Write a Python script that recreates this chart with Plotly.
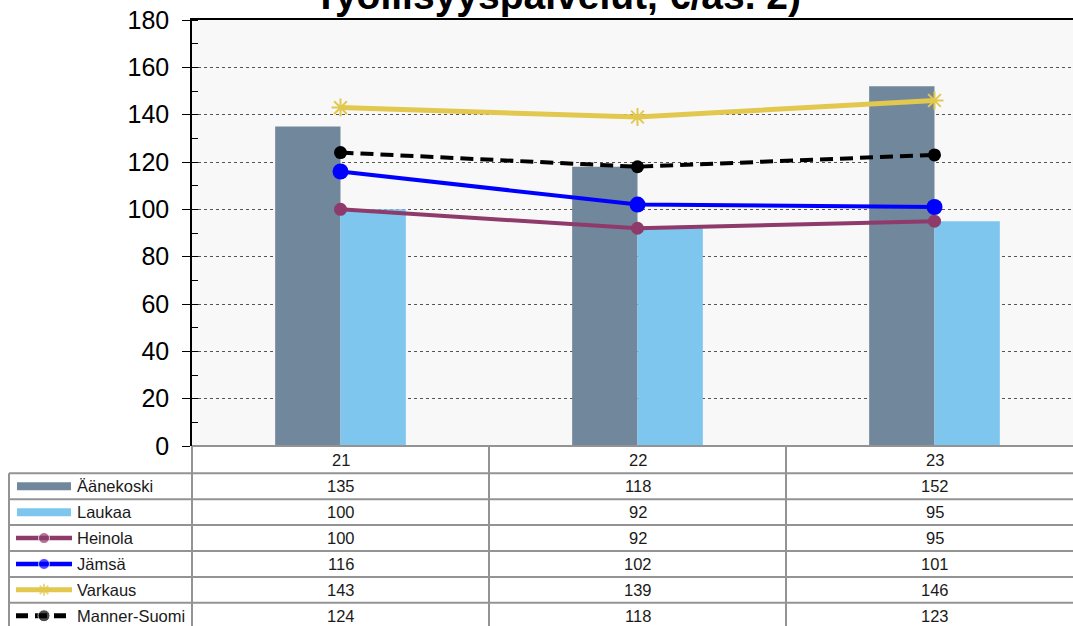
import plotly.graph_objects as go

# Data: cost per inhabitant (€/as.) by year
years = ["21", "22", "23"]
aanekoski = [135, 118, 152]
laukaa = [100, 92, 95]
heinola = [100, 92, 95]
jamsa = [116, 102, 101]
varkaus = [143, 139, 146]
manner_suomi = [124, 118, 123]

title_text = "Työllisyyspalvelut, €/as. 2)"

W, H = 1073, 626


def px(x):
    return x / W


def py(y):
    return 1 - y / H


C_AAN = "#71879c"
C_LAU = "#7fc6ef"
C_HEI = "#8e3a6b"
C_JAM = "#0000ff"
C_VAR = "#e2c84e"
C_MS = "#000000"

fig = go.Figure()

# Bars
fig.add_trace(go.Bar(x=years, y=aanekoski, name="Äänekoski", marker_color=C_AAN,
                     marker_line_width=0))
fig.add_trace(go.Bar(x=years, y=laukaa, name="Laukaa", marker_color=C_LAU,
                     marker_line_width=0))

# Lines
fig.add_trace(go.Scatter(x=years, y=heinola, name="Heinola", mode="lines+markers",
                         line=dict(color=C_HEI, width=4),
                         marker=dict(color=C_HEI, size=13, symbol="circle")))
fig.add_trace(go.Scatter(x=years, y=jamsa, name="Jämsä", mode="lines+markers",
                         line=dict(color=C_JAM, width=4),
                         marker=dict(color=C_JAM, size=16, symbol="circle")))
fig.add_trace(go.Scatter(x=years, y=varkaus, name="Varkaus", mode="lines+markers",
                         line=dict(color=C_VAR, width=5),
                         marker=dict(color=C_VAR, size=15, symbol="asterisk-open",
                                     line=dict(color=C_VAR, width=2))))
fig.add_trace(go.Scatter(x=years, y=manner_suomi, name="Manner-Suomi", mode="lines+markers",
                         line=dict(color=C_MS, width=4, dash="13px,7px"),
                         marker=dict(color=C_MS, size=13, symbol="circle")))

# Data table below the plot
row_names = ["Äänekoski", "Laukaa", "Heinola", "Jämsä", "Varkaus", "Manner-Suomi"]
row_values = [aanekoski, laukaa, heinola, jamsa, varkaus, manner_suomi]

table_top = 446
header_bottom = 473.3
row_h = 25.9
grid_col = "#939393"

shapes = []
# plot area background
shapes.append(dict(type="rect", xref="x domain", yref="y domain", x0=0, x1=1, y0=0, y1=1,
                   fillcolor="#f8f8f8", line_width=0, layer="below"))
# horizontal rules
shapes.append(dict(type="line", xref="paper", yref="paper", x0=px(192), x1=1,
                   y0=py(table_top), y1=py(table_top), line=dict(color=grid_col, width=2)))
for i in range(len(row_names)):
    yy = header_bottom + i * row_h
    shapes.append(dict(type="line", xref="paper", yref="paper", x0=px(9), x1=1,
                       y0=py(yy), y1=py(yy), line=dict(color=grid_col, width=2)))
# vertical rules
shapes.append(dict(type="line", xref="paper", yref="paper", x0=px(9), x1=px(9),
                   y0=py(header_bottom), y1=0, line=dict(color=grid_col, width=2)))
for xx in [192, 489, 786]:
    shapes.append(dict(type="line", xref="paper", yref="paper", x0=px(xx), x1=px(xx),
                       y0=py(table_top), y1=0, line=dict(color=grid_col, width=2)))

annotations = []
tfont = dict(family="Liberation Sans, Arial, sans-serif", size=16.5, color="#1a1a1a")
# header row with years (category index positions on the x axis)
for j, yr in enumerate(years):
    annotations.append(dict(x=j, xref="x", y=py((table_top + header_bottom) / 2), yref="paper",
                            text=yr, showarrow=False, font=tfont,
                            xanchor="center", yanchor="middle"))
for i, (name, vals) in enumerate(zip(row_names, row_values)):
    yc = header_bottom + (i + 0.5) * row_h
    annotations.append(dict(x=px(75), xref="paper", y=py(yc), yref="paper", text=name,
                            showarrow=False, font=tfont, xanchor="left", yanchor="middle"))
    for j, v in enumerate(vals):
        annotations.append(dict(x=j, xref="x", y=py(yc), yref="paper", text=str(v),
                                showarrow=False, font=tfont,
                                xanchor="center", yanchor="middle"))

# title
annotations.append(dict(x=px(557), xref="paper", y=py(18), yref="paper", text="<b>" + title_text + "</b>",
                        showarrow=False, xanchor="center", yanchor="bottom", borderpad=0,
                        font=dict(family="Liberation Sans, Arial, sans-serif", size=39,
                                  color="#000000")))

# legend keys inside the first table column (pixel-space overlay axes)
key_x = [16, 44, 72]
for i, name in enumerate(row_names):
    yc = header_bottom + (i + 0.5) * row_h
    if i == 0:
        fig.add_trace(go.Scatter(x=[17, 71], y=[yc, yc], mode="lines", xaxis="x2", yaxis="y2",
                                 line=dict(color=C_AAN, width=8), showlegend=False,
                                 hoverinfo="skip"))
    elif i == 1:
        fig.add_trace(go.Scatter(x=[17, 71], y=[yc, yc], mode="lines", xaxis="x2", yaxis="y2",
                                 line=dict(color=C_LAU, width=8), showlegend=False,
                                 hoverinfo="skip"))
    elif i == 2:
        fig.add_trace(go.Scatter(x=key_x, y=[yc] * 3, mode="lines+markers", xaxis="x2", yaxis="y2",
                                 line=dict(color=C_HEI, width=4.5),
                                 marker=dict(color=C_HEI, size=[0, 11, 0]),
                                 showlegend=False, hoverinfo="skip"))
    elif i == 3:
        fig.add_trace(go.Scatter(x=key_x, y=[yc] * 3, mode="lines+markers", xaxis="x2", yaxis="y2",
                                 line=dict(color=C_JAM, width=4.5),
                                 marker=dict(color=C_JAM, size=[0, 11, 0]),
                                 showlegend=False, hoverinfo="skip"))
    elif i == 4:
        fig.add_trace(go.Scatter(x=key_x, y=[yc] * 3, mode="lines+markers", xaxis="x2", yaxis="y2",
                                 line=dict(color=C_VAR, width=5),
                                 marker=dict(color=C_VAR, size=[0, 10, 0], symbol="asterisk-open",
                                             line=dict(color=C_VAR, width=2)),
                                 showlegend=False, hoverinfo="skip"))
    else:
        fig.add_trace(go.Scatter(x=key_x, y=[yc] * 3, mode="lines+markers", xaxis="x2", yaxis="y2",
                                 line=dict(color=C_MS, width=5, dash="12px,7px"),
                                 marker=dict(color=C_MS, size=[0, 12, 0], symbol="circle"),
                                 showlegend=False, hoverinfo="skip"))

fig.update_layout(
    width=W, height=H,
    margin=dict(l=0, r=0, t=0, b=0, autoexpand=False),
    paper_bgcolor="white",
    plot_bgcolor="rgba(0,0,0,0)",
    showlegend=False,
    barmode="group",
    bargap=0.56,
    bargroupgap=0,
    shapes=shapes,
    annotations=annotations,
    xaxis=dict(type="category", domain=[px(192), 1], range=[-0.5, 2.5 - 10 / 297],
               side="top", showline=True, linecolor="black", linewidth=2,
               showticklabels=False, ticks="", showgrid=False, zeroline=False,
               fixedrange=True),
    yaxis=dict(domain=[py(446), py(20)], range=[0, 180], dtick=20,
               ticks="outside", ticklen=8, tickcolor="black", tickwidth=1,
               tickfont=dict(family="Liberation Sans, Arial, sans-serif", size=25, color="black"),
               ticklabelstandoff=8,
               showline=True, linecolor="black", linewidth=1.5,
               showgrid=True, gridcolor="#555555", griddash="dot", gridwidth=1,
               zeroline=False,
               minor=dict(dtick=10, ticks="inside", ticklen=6, tickcolor="black",
                          showgrid=False),
               fixedrange=True),
    xaxis2=dict(domain=[0, 1], range=[0, W], visible=False, anchor="y2", fixedrange=True),
    yaxis2=dict(domain=[0, 1], range=[H, 0], visible=False, anchor="x2", fixedrange=True),
)

fig.write_html("out.html")
